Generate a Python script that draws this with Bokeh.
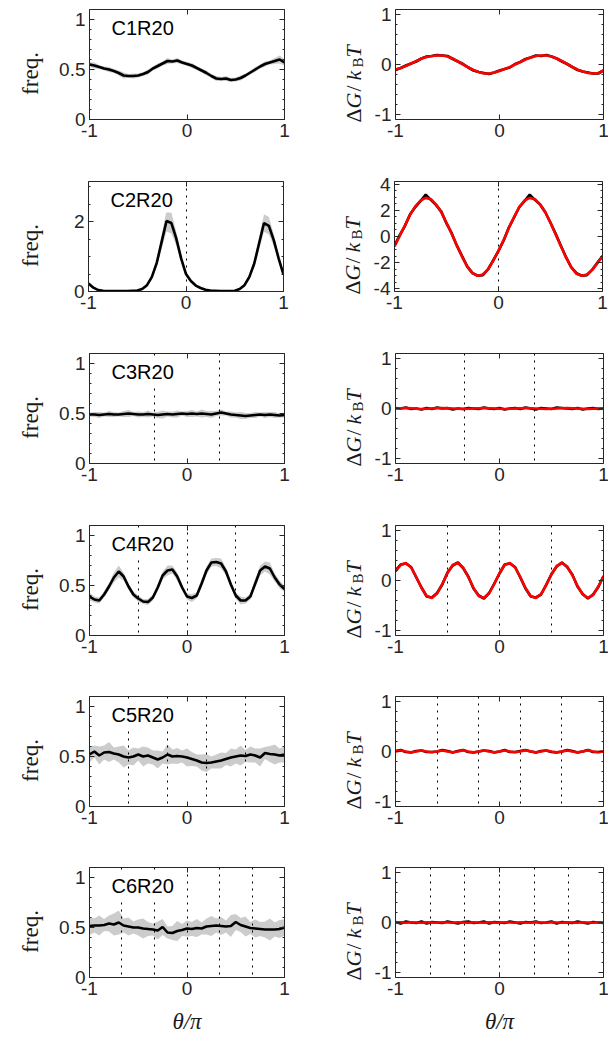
import numpy as np
from bokeh.plotting import figure
from bokeh.layouts import column, row
from bokeh.models import Range1d, FixedTicker, LinearAxis, Label, CustomJSTickFormatter
from bokeh.core.properties import value
from bokeh.embed import file_html
from bokeh.resources import INLINE

# ---------------- data ----------------
theta = [-1.0, -0.95, -0.9, -0.85, -0.8, -0.75, -0.7, -0.65, -0.6, -0.55,
         -0.5, -0.45, -0.4, -0.35, -0.3, -0.25, -0.2, -0.15, -0.1, -0.05,
         0.0, 0.05, 0.1, 0.15, 0.2, 0.25, 0.3, 0.35, 0.4, 0.45,
         0.5, 0.55, 0.6, 0.65, 0.7, 0.75, 0.8, 0.85, 0.9, 0.95, 1.0]

titles = ["C1R20", "C2R20", "C3R20", "C4R20", "C5R20", "C6R20"]

c1_freq = [0.55, 0.54, 0.525, 0.51, 0.50, 0.485, 0.465, 0.44, 0.435, 0.435,
           0.44, 0.455, 0.475, 0.51, 0.535, 0.56, 0.585, 0.58, 0.59, 0.57,
           0.555, 0.54, 0.515, 0.49, 0.465, 0.435, 0.41, 0.405, 0.41, 0.395,
           0.40, 0.415, 0.44, 0.47, 0.50, 0.53, 0.555, 0.57, 0.585, 0.60, 0.57]
c1_spread = [0.025, 0.03, 0.02, 0.02, 0.025, 0.02, 0.025, 0.03, 0.02, 0.025,
             0.02, 0.02, 0.025, 0.02, 0.025, 0.02, 0.03, 0.02, 0.025, 0.02,
             0.02, 0.025, 0.02, 0.02, 0.025, 0.02, 0.025, 0.02, 0.025, 0.02,
             0.02, 0.025, 0.02, 0.02, 0.025, 0.02, 0.025, 0.02, 0.03, 0.04, 0.03]
c1_dG = [-0.11, -0.07, -0.02, 0.02, 0.06, 0.12, 0.16, 0.17, 0.19, 0.18,
         0.17, 0.11, 0.06, 0.01, -0.06, -0.12, -0.15, -0.17, -0.19, -0.16,
         -0.12, -0.09, -0.06, 0.01, 0.05, 0.11, 0.14, 0.18, 0.17, 0.19,
         0.16, 0.12, 0.06, 0.01, -0.05, -0.11, -0.14, -0.16, -0.18, -0.18, -0.12]
c1_fit = [-0.10, -0.07, -0.03, 0.02, 0.07, 0.12, 0.15, 0.17, 0.18, 0.18,
          0.16, 0.12, 0.06, 0.0, -0.06, -0.11, -0.15, -0.18, -0.18, -0.16,
          -0.13, -0.09, -0.05, 0.0, 0.05, 0.10, 0.14, 0.17, 0.18, 0.18,
          0.16, 0.12, 0.07, 0.01, -0.05, -0.10, -0.14, -0.17, -0.18, -0.17, -0.12]
c1_sym = []

c2_freq = [0.23, 0.11, 0.04, 0.02, 0.01, 0.01, 0.01, 0.01, 0.01, 0.02,
           0.03, 0.07, 0.18, 0.42, 0.82, 1.42, 2.02, 1.96, 1.52, 0.95,
           0.50, 0.30, 0.17, 0.10, 0.05, 0.03, 0.02, 0.01, 0.01, 0.01,
           0.02, 0.07, 0.18, 0.42, 0.80, 1.38, 1.96, 1.88, 1.47, 0.95, 0.48]
c2_spread = [0.05, 0.03, 0.02, 0.01, 0.01, 0.01, 0.01, 0.01, 0.01, 0.01,
             0.02, 0.03, 0.05, 0.08, 0.12, 0.20, 0.30, 0.30, 0.20, 0.12,
             0.08, 0.05, 0.03, 0.02, 0.01, 0.01, 0.01, 0.01, 0.01, 0.01,
             0.02, 0.03, 0.05, 0.08, 0.12, 0.18, 0.25, 0.25, 0.17, 0.11, 0.07]
c2_dG = [-0.7, 0.1, 0.8, 1.7, 2.25, 2.7, 3.2, 2.8, 2.4, 1.9,
         1.0, 0.25, -0.7, -1.5, -2.3, -2.8, -3.0, -2.95, -2.5, -1.8,
         -1.1, -0.3, 0.7, 1.45, 2.25, 2.7, 3.2, 2.8, 2.45, 1.85,
         1.05, 0.2, -0.7, -1.6, -2.35, -2.8, -3.0, -2.95, -2.55, -2.0, -1.5]
c2_fit = [-0.75, 0.05, 0.85, 1.65, 2.3, 2.75, 2.95, 2.85, 2.45, 1.85,
          1.05, 0.2, -0.7, -1.55, -2.3, -2.8, -3.0, -2.9, -2.5, -1.85,
          -1.1, -0.25, 0.65, 1.5, 2.25, 2.75, 2.95, 2.85, 2.45, 1.85,
          1.05, 0.15, -0.75, -1.6, -2.35, -2.85, -3.0, -2.9, -2.55, -2.05, -1.5]
c2_sym = [0.0]

c3_freq = [0.49, 0.49, 0.485, 0.49, 0.495, 0.49, 0.49, 0.495, 0.5, 0.495,
           0.49, 0.49, 0.495, 0.49, 0.485, 0.49, 0.495, 0.49, 0.495, 0.5,
           0.495, 0.5, 0.495, 0.5, 0.495, 0.49, 0.5, 0.51, 0.5, 0.49,
           0.485, 0.48, 0.475, 0.48, 0.485, 0.49, 0.485, 0.49, 0.485, 0.48, 0.485]
c3_spread = [0.02, 0.025, 0.03, 0.02, 0.03, 0.025, 0.02, 0.03, 0.035, 0.02,
             0.03, 0.025, 0.035, 0.02, 0.03, 0.04, 0.025, 0.03, 0.035, 0.02,
             0.03, 0.035, 0.025, 0.04, 0.03, 0.035, 0.025, 0.03, 0.02, 0.03,
             0.025, 0.035, 0.03, 0.025, 0.03, 0.02, 0.03, 0.025, 0.03, 0.02, 0.025]
c3_dG = [0.01, 0.0, 0.02, -0.01, 0.0, -0.02, 0.01, -0.01, 0.02, 0.0,
         0.01, -0.02, 0.0, -0.01, 0.01, 0.0, -0.01, 0.02, 0.0, -0.01,
         0.01, -0.02, 0.0, 0.01, -0.01, 0.02, 0.0, -0.02, 0.01, 0.0,
         -0.01, 0.02, 0.01, 0.0, -0.01, 0.01, -0.02, 0.0, 0.01, -0.01, 0.0]
c3_fit = [0.0, 0.005, 0.01, 0.005, -0.005, -0.01, -0.005, 0.0, 0.005, 0.01,
          0.005, 0.0, -0.005, -0.01, -0.005, 0.0, 0.005, 0.01, 0.005, 0.0,
          -0.005, -0.01, -0.005, 0.0, 0.005, 0.01, 0.005, 0.0, -0.005, -0.01,
          -0.005, 0.0, 0.005, 0.01, 0.005, 0.0, -0.005, -0.01, -0.005, 0.0, 0.005]
c3_sym = [-0.3333, 0.3333]

c4_freq = [0.39, 0.36, 0.35, 0.41, 0.49, 0.58, 0.64, 0.59, 0.49, 0.41,
           0.37, 0.34, 0.335, 0.38, 0.48, 0.60, 0.65, 0.66, 0.59, 0.48,
           0.39, 0.375, 0.40, 0.52, 0.65, 0.73, 0.735, 0.72, 0.64, 0.51,
           0.40, 0.35, 0.35, 0.39, 0.52, 0.65, 0.69, 0.67, 0.58, 0.51, 0.465]
c4_spread = [0.04, 0.03, 0.03, 0.03, 0.035, 0.05, 0.06, 0.04, 0.03, 0.03,
             0.03, 0.025, 0.03, 0.03, 0.035, 0.04, 0.05, 0.04, 0.04, 0.03,
             0.03, 0.04, 0.03, 0.04, 0.04, 0.04, 0.04, 0.05, 0.04, 0.03,
             0.03, 0.04, 0.03, 0.03, 0.04, 0.05, 0.05, 0.06, 0.04, 0.04, 0.03]
c4_dG = [0.2, 0.32, 0.34, 0.27, 0.06, -0.14, -0.32, -0.34, -0.25, -0.08,
         0.16, 0.3, 0.36, 0.25, 0.08, -0.16, -0.3, -0.36, -0.25, -0.06,
         0.14, 0.32, 0.34, 0.27, 0.06, -0.16, -0.32, -0.34, -0.28, -0.08,
         0.13, 0.28, 0.36, 0.27, 0.12, -0.12, -0.27, -0.36, -0.28, -0.13, 0.09]
c4_fit = [0.18, 0.31, 0.35, 0.26, 0.07, -0.15, -0.31, -0.35, -0.26, -0.07,
          0.15, 0.31, 0.35, 0.26, 0.07, -0.15, -0.31, -0.35, -0.26, -0.07,
          0.15, 0.31, 0.35, 0.26, 0.07, -0.15, -0.31, -0.35, -0.27, -0.09,
          0.12, 0.29, 0.35, 0.28, 0.11, -0.11, -0.28, -0.35, -0.29, -0.12, 0.08]
c4_sym = [-0.5, 0.0, 0.5]

c5_freq = [0.52, 0.55, 0.51, 0.54, 0.545, 0.53, 0.52, 0.50, 0.49, 0.50,
           0.52, 0.50, 0.51, 0.49, 0.47, 0.49, 0.52, 0.50, 0.505, 0.50,
           0.49, 0.475, 0.46, 0.44, 0.435, 0.44, 0.45, 0.46, 0.475, 0.49,
           0.50, 0.51, 0.505, 0.52, 0.51, 0.49, 0.535, 0.525, 0.52, 0.51, 0.52]
c5_spread = [0.08, 0.06, 0.09, 0.07, 0.10, 0.06, 0.08, 0.11, 0.07, 0.09,
             0.06, 0.10, 0.08, 0.07, 0.09, 0.06, 0.10, 0.07, 0.08, 0.06,
             0.09, 0.07, 0.06, 0.08, 0.09, 0.06, 0.07, 0.08, 0.06, 0.09,
             0.07, 0.10, 0.06, 0.08, 0.07, 0.09, 0.06, 0.08, 0.10, 0.07, 0.08]
c5_dG = [0.01, 0.03, -0.01, -0.02, 0.01, 0.02, -0.01, -0.01, 0.0, 0.03,
         0.01, -0.02, 0.01, 0.03, -0.01, -0.02, 0.0, 0.02, 0.01, -0.02,
         0.0, 0.03, -0.01, -0.01, 0.01, 0.03, 0.0, -0.02, 0.01, 0.02,
         -0.01, -0.02, 0.0, 0.03, 0.01, -0.02, 0.0, 0.03, -0.01, -0.01, 0.0]
c5_fit = [0.0, 0.02, 0.0, -0.015, 0.0, 0.02, 0.0, -0.015, 0.0, 0.02,
          0.0, -0.015, 0.0, 0.025, 0.0, -0.015, 0.0, 0.02, 0.0, -0.015,
          0.0, 0.02, 0.0, -0.015, 0.0, 0.025, 0.0, -0.015, 0.0, 0.02,
          0.0, -0.015, 0.0, 0.02, 0.0, -0.015, 0.0, 0.025, 0.0, -0.015, 0.0]
c5_sym = [-0.6, -0.2, 0.2, 0.6]

c6_freq = [0.515, 0.52, 0.52, 0.525, 0.54, 0.53, 0.55, 0.52, 0.51, 0.50,
           0.50, 0.49, 0.485, 0.48, 0.47, 0.505, 0.45, 0.445, 0.465, 0.475,
           0.49, 0.485, 0.495, 0.49, 0.51, 0.515, 0.52, 0.515, 0.51, 0.515,
           0.555, 0.525, 0.51, 0.495, 0.49, 0.485, 0.48, 0.48, 0.48, 0.485, 0.50]
c6_spread = [0.09, 0.07, 0.10, 0.06, 0.08, 0.11, 0.12, 0.07, 0.09, 0.06,
             0.08, 0.10, 0.07, 0.06, 0.09, 0.08, 0.06, 0.07, 0.10, 0.06,
             0.08, 0.07, 0.09, 0.06, 0.08, 0.10, 0.07, 0.09, 0.06, 0.11,
             0.08, 0.07, 0.10, 0.06, 0.09, 0.07, 0.08, 0.11, 0.07, 0.09, 0.08]
c6_dG = [0.01, -0.02, 0.02, 0.0, -0.01, 0.02, -0.02, 0.01, 0.0, -0.01,
         0.02, 0.0, -0.02, 0.01, 0.02, -0.01, 0.0, 0.02, -0.02, 0.01,
         0.0, -0.01, 0.02, 0.0, -0.02, 0.01, 0.0, 0.02, -0.01, 0.0,
         0.02, -0.02, 0.01, 0.0, -0.01, 0.02, 0.0, -0.02, 0.01, 0.0, -0.01]
c6_fit = [0.0, 0.005, -0.005, 0.005, 0.0, -0.005, 0.005, 0.0, -0.005, 0.005,
          0.0, -0.005, 0.005, 0.0, -0.005, 0.005, 0.0, -0.005, 0.005, 0.0,
          -0.005, 0.005, 0.0, -0.005, 0.005, 0.0, -0.005, 0.005, 0.0, -0.005,
          0.005, 0.0, -0.005, 0.005, 0.0, -0.005, 0.005, 0.0, -0.005, 0.005, 0.0]
c6_sym = [-0.6667, -0.3333, 0.0, 0.3333, 0.6667]

x_ticks = [-1, 0, 1]
freq_ticks = [0, 0.5, 1]
freq_ticks_c2 = [0, 2]
dG_ticks = [-1, 0, 1]
dG_ticks_c2 = [-4, -2, 0, 2, 4]

freq_label = "freq."
x_label = "θ/π"
# pieces of the  ΔG/k_B T  label: text, style, size, subscript
dG_label_pieces = [("Δ", "normal", "22px", False),
                   ("G", "italic", "22px", False),
                   ("/", "normal", "22px", False),
                   ("k", "italic", "22px", False),
                   ("B", "normal", "15px", True),
                   ("T", "italic", "22px", False)]
dG_label_along = [6, 20, 37, 48, 61, 71]   # px along the label, from the frame bottom

freqs = [c1_freq, c2_freq, c3_freq, c4_freq, c5_freq, c6_freq]
spreads = [c1_spread, c2_spread, c3_spread, c4_spread, c5_spread, c6_spread]
dGs = [c1_dG, c2_dG, c3_dG, c4_dG, c5_dG, c6_dG]
fits = [c1_fit, c2_fit, c3_fit, c4_fit, c5_fit, c6_fit]
syms = [c1_sym, c2_sym, c3_sym, c4_sym, c5_sym, c6_sym]

# ---------------- styling / layout ----------------
AX = "#262626"
TICK_FONT = "Liberation Sans"
SERIF = "Liberation Serif"
FRAME_H = 110
TOP_B = 9
BOTTOM_B = [53, 53, 53, 52, 52, 63]
LW, RW = 195, 208
S1 = 56                 # strip holding "freq."
S2 = 48                 # strip holding the dG label
L_LEFT = 88 - S1        # left panel: frame starts at x = 88
L_RIGHT = 39
R_LEFT = 394 - (88 + LW + L_RIGHT + S2)   # right panel: frame starts at x = 394
R_RIGHT = 6


def style_axis(ax, ticker, labels=True):
    ax.ticker = ticker
    ax.axis_line_color = AX
    ax.axis_line_width = 1
    ax.major_tick_line_color = AX
    ax.major_tick_in = 5
    ax.major_tick_out = 0
    ax.minor_tick_line_color = AX
    ax.minor_tick_in = 2
    ax.minor_tick_out = 0
    ax.major_label_text_font = TICK_FONT
    ax.major_label_text_color = AX
    if labels:
        ax.formatter = CustomJSTickFormatter(code="return tick.toString()")
        ax.major_label_text_font_size = "19px"
        ax.major_label_standoff = 4
    else:
        ax.formatter = CustomJSTickFormatter(code="return ''")
        ax.major_label_text_font_size = "0px"
        ax.major_label_standoff = 0


def make_fig(frame_w, bl, br, bb, yr, yt, yminor, last):
    p = figure(frame_width=frame_w, frame_height=FRAME_H,
               min_border_left=bl, min_border_right=br,
               min_border_top=TOP_B, min_border_bottom=bb,
               x_range=Range1d(-1, 1), y_range=Range1d(yr[0], yr[1]),
               output_backend="svg", toolbar_location=None, tools="")
    p.outline_line_color = None
    p.grid.visible = False
    p.background_fill_color = "white"
    p.border_fill_color = "white"
    bottom = p.below[0]
    style_axis(bottom, FixedTicker(ticks=x_ticks, minor_ticks=[]), True)
    style_axis(p.left[0], FixedTicker(ticks=yt, minor_ticks=yminor), True)
    top = LinearAxis()
    style_axis(top, FixedTicker(ticks=x_ticks, minor_ticks=[]), False)
    p.add_layout(top, "above")
    right = LinearAxis()
    style_axis(right, FixedTicker(ticks=yt, minor_ticks=yminor), False)
    p.add_layout(right, "right")
    if last:
        bottom.axis_label = x_label
        bottom.axis_label_text_font = SERIF
        bottom.axis_label_text_font_style = "italic"
        bottom.axis_label_text_font_size = "23px"
        bottom.axis_label_text_color = "#1a1a1a"
        bottom.axis_label_standoff = 11
    return p


def make_strip(w, h):
    s = figure(frame_width=w, frame_height=h, x_range=Range1d(0, w), y_range=Range1d(0, h),
               x_axis_type=None, y_axis_type=None, min_border=0,
               output_backend="svg", toolbar_location=None, tools="")
    s.outline_line_color = None
    s.grid.visible = False
    s.background_fill_color = "white"
    s.border_fill_color = "white"
    return s


freq_minor = [round(0.1 * i, 2) for i in range(12)]
freq_minor_c2 = [0.5 * i for i in range(7)]
dG_minor = [round(-1.2 + 0.2 * i, 2) for i in range(13)]
dG_minor_c2 = [-4.5 + 0.5 * i for i in range(19)]

rows = []
for i in range(6):
    last = (i == 5)
    bb = BOTTOM_B[i]
    H = TOP_B + FRAME_H + bb
    if i == 1:
        lyr, lyt, lmin = (0, 3.15), freq_ticks_c2, freq_minor_c2
        ryr, ryt, rmin = (-4.2, 4.2), dG_ticks_c2, dG_minor_c2
    else:
        lyr, lyt, lmin = (0, 1.1), freq_ticks, freq_minor
        ryr, ryt, rmin = (-1.1, 1.1), dG_ticks, dG_minor

    lower = [m - s for m, s in zip(freqs[i], spreads[i])]
    upper = [m + s for m, s in zip(freqs[i], spreads[i])]

    # ---- strip with the "freq." label ----
    s1 = make_strip(S1, H)
    s1.text(x=[30], y=[bb + FRAME_H / 2], text=[freq_label], angle=np.pi / 2,
            text_align="center", text_baseline="alphabetic",
            text_font=value(SERIF), text_font_size="23px", text_color="#1a1a1a")

    # ---- left panel: frequency ----
    pl = make_fig(LW, L_LEFT, L_RIGHT, bb, lyr, lyt, lmin, last)
    pl.varea(x=theta, y1=lower, y2=upper, fill_color="#cccccc", fill_alpha=1.0)
    if syms[i]:
        pl.vspan(x=syms[i], line_color="black", line_width=1, line_dash="2 5")
    pl.line(theta, freqs[i], line_color="black", line_width=2.6)
    pl.add_layout(Label(x=-1, y=lyr[1], x_offset=20, y_offset=-5, text=titles[i],
                        text_font=TICK_FONT, text_font_size="20px", text_color="black",
                        text_baseline="top", text_align="left",
                        background_fill_color="white", padding=2))

    # ---- strip with the dG/kBT label ----
    s2 = make_strip(S2, H)
    base_x = 352 - (88 + LW + L_RIGHT)
    for (txt, style, size, sub), along in zip(dG_label_pieces, dG_label_along):
        s2.text(x=[base_x + (4 if sub else 0)], y=[bb + along], text=[txt], angle=np.pi / 2,
                text_align="left", text_baseline="alphabetic",
                text_font=value(SERIF), text_font_style=style, text_font_size=size,
                text_color="#1a1a1a")

    # ---- right panel: free energy ----
    pr = make_fig(RW, R_LEFT, R_RIGHT, bb, ryr, ryt, rmin, last)
    if syms[i]:
        pr.vspan(x=syms[i], line_color="black", line_width=1, line_dash="2 5")
    pr.line(theta, dGs[i], line_color="black", line_width=2.6)
    pr.line(theta, fits[i], line_color="#ff0000", line_width=2.6)
    rows.append(row(s1, pl, s2, pr))

layout = column(*rows)
open("out.html", "w").write(file_html(layout, INLINE))
